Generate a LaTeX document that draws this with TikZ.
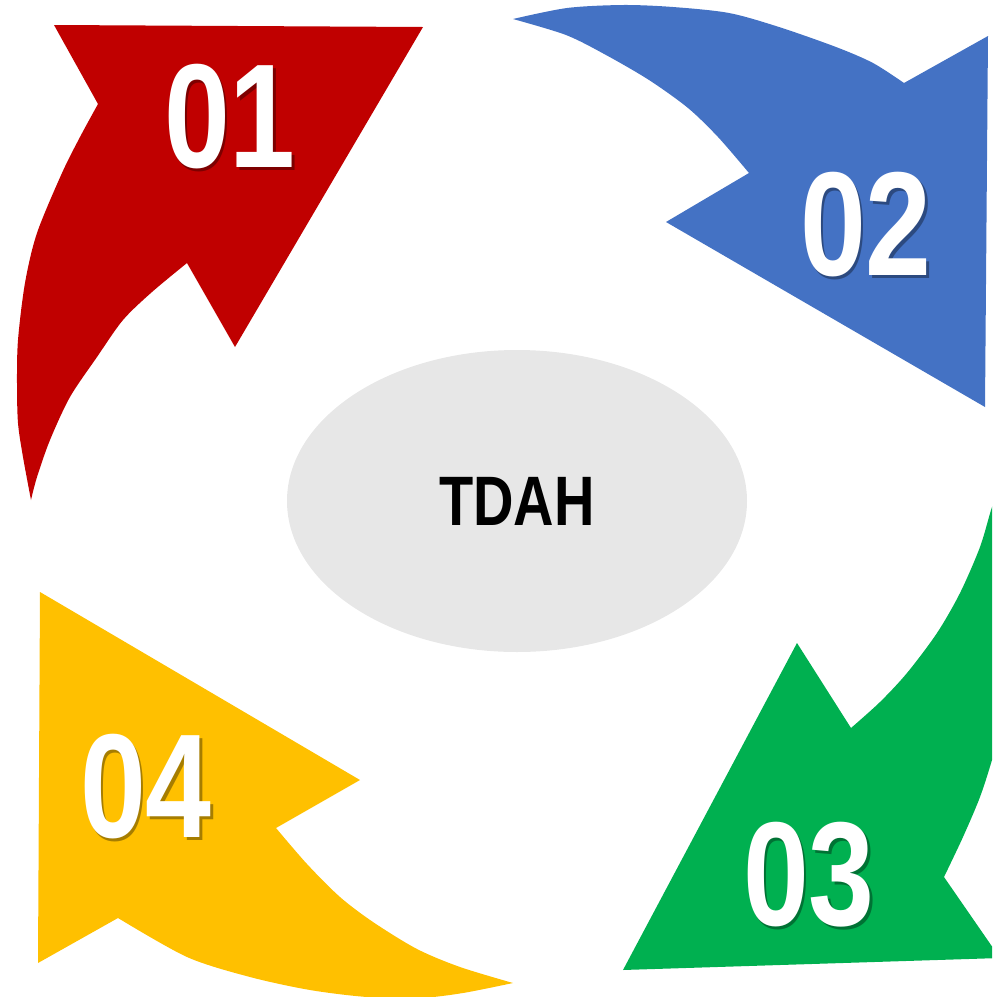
\documentclass[tikz,border=0pt]{standalone}
\usepackage{fontspec}
\setmainfont{Liberation Sans}
\newfontfamily\numfont[FakeStretch=0.8]{Liberation Sans}
\usetikzlibrary{shapes.geometric}

\definecolor{arrowred}{HTML}{C00000}
\definecolor{arrowblue}{HTML}{4472C4}
\definecolor{arrowgreen}{HTML}{00B050}
\definecolor{arrowyellow}{HTML}{FFC000}
\definecolor{hubgray}{HTML}{E7E7E7}

\def \numsize {\fontsize{74}{74}\selectfont}
\def \hubsize {\fontsize{35}{35}\selectfont}
\def \shadowoff {1.3pt}
\newcommand{\numtext}[2]{\makebox[0pt][l]{\hspace{\shadowoff}\raisebox{-\shadowoff}{\color{#1!65!black}#2}}#2}

\begin{document}
\begin{tikzpicture}[x=0.5pt, y=-0.5pt,
  num/.style={text=white, font=\numfont\bfseries\numsize, inner sep=0pt},
  hub/.style={ellipse, fill=hubgray, minimum width=230pt, minimum height=151pt, inner sep=0pt, font=\numfont\bfseries\hubsize}]
\useasboundingbox (0,0) rectangle (992,997);
\clip (0,0) rectangle (992,997);

% 01
\fill[arrowred] (54,25) -- (423,27) -- (235,347) -- (187,263)
  -- plot[smooth] coordinates {(187,263) (152,292) (123,320) (97,357) (70,397) (50,440) (37,477) (31,500)}
  -- plot[smooth] coordinates {(31,500) (23,457) (18,423) (17,383) (18,340) (25,283) (37,233) (62,173) (80,137) (98,104)}
  -- cycle;
% 02
\fill[arrowblue] (513,19)
  -- plot[smooth] coordinates {(513,19) (567,8) (623,5) (673,7) (729,13) (779,27) (836,47) (873,63) (904,83)}
  -- (988,36) -- (985,407) -- (666,222) -- (749,173)
  -- plot[smooth] coordinates {(749,173) (718,137) (688,108) (649,80) (606,55) (566,35) (513,19)}
  -- cycle;
% 03
\fill[arrowgreen] (1000,490)
  -- plot[smooth] coordinates {(1000,490) (992,507) (980,547) (960,593) (937,633) (907,673) (880,702) (851,728)}
  -- (797,643) -- (623,970) -- (1000,958) -- (944,877)
  -- plot[smooth] coordinates {(944,877) (963,837) (980,797) (992,760) (1003,720) (1010,650) (1010,560) (1000,490)}
  -- cycle;
% 04
\fill[arrowyellow] (40,592) -- (360,780) -- (276,828)
  -- plot[smooth] coordinates {(276,828) (307,864) (340,897) (373,922) (417,949) (460,967) (513,983)}
  -- plot[smooth] coordinates {(513,983) (463,993) (420,998) (367,997) (310,990) (250,977) (187,957) (118,918)}
  -- (38,963) -- cycle;

\node[hub] (tdah) at (517,501) {TDAH};

\node[num] (n01) at (230,118) {\numtext{arrowred}{01}};
\node[num] (n02) at (866,226) {\numtext{arrowblue}{02}};
\node[num] (n03) at (809,876) {\numtext{arrowgreen}{03}};
\node[num] (n04) at (146,788) {\numtext{arrowyellow}{04}};
\end{tikzpicture}
\end{document}
